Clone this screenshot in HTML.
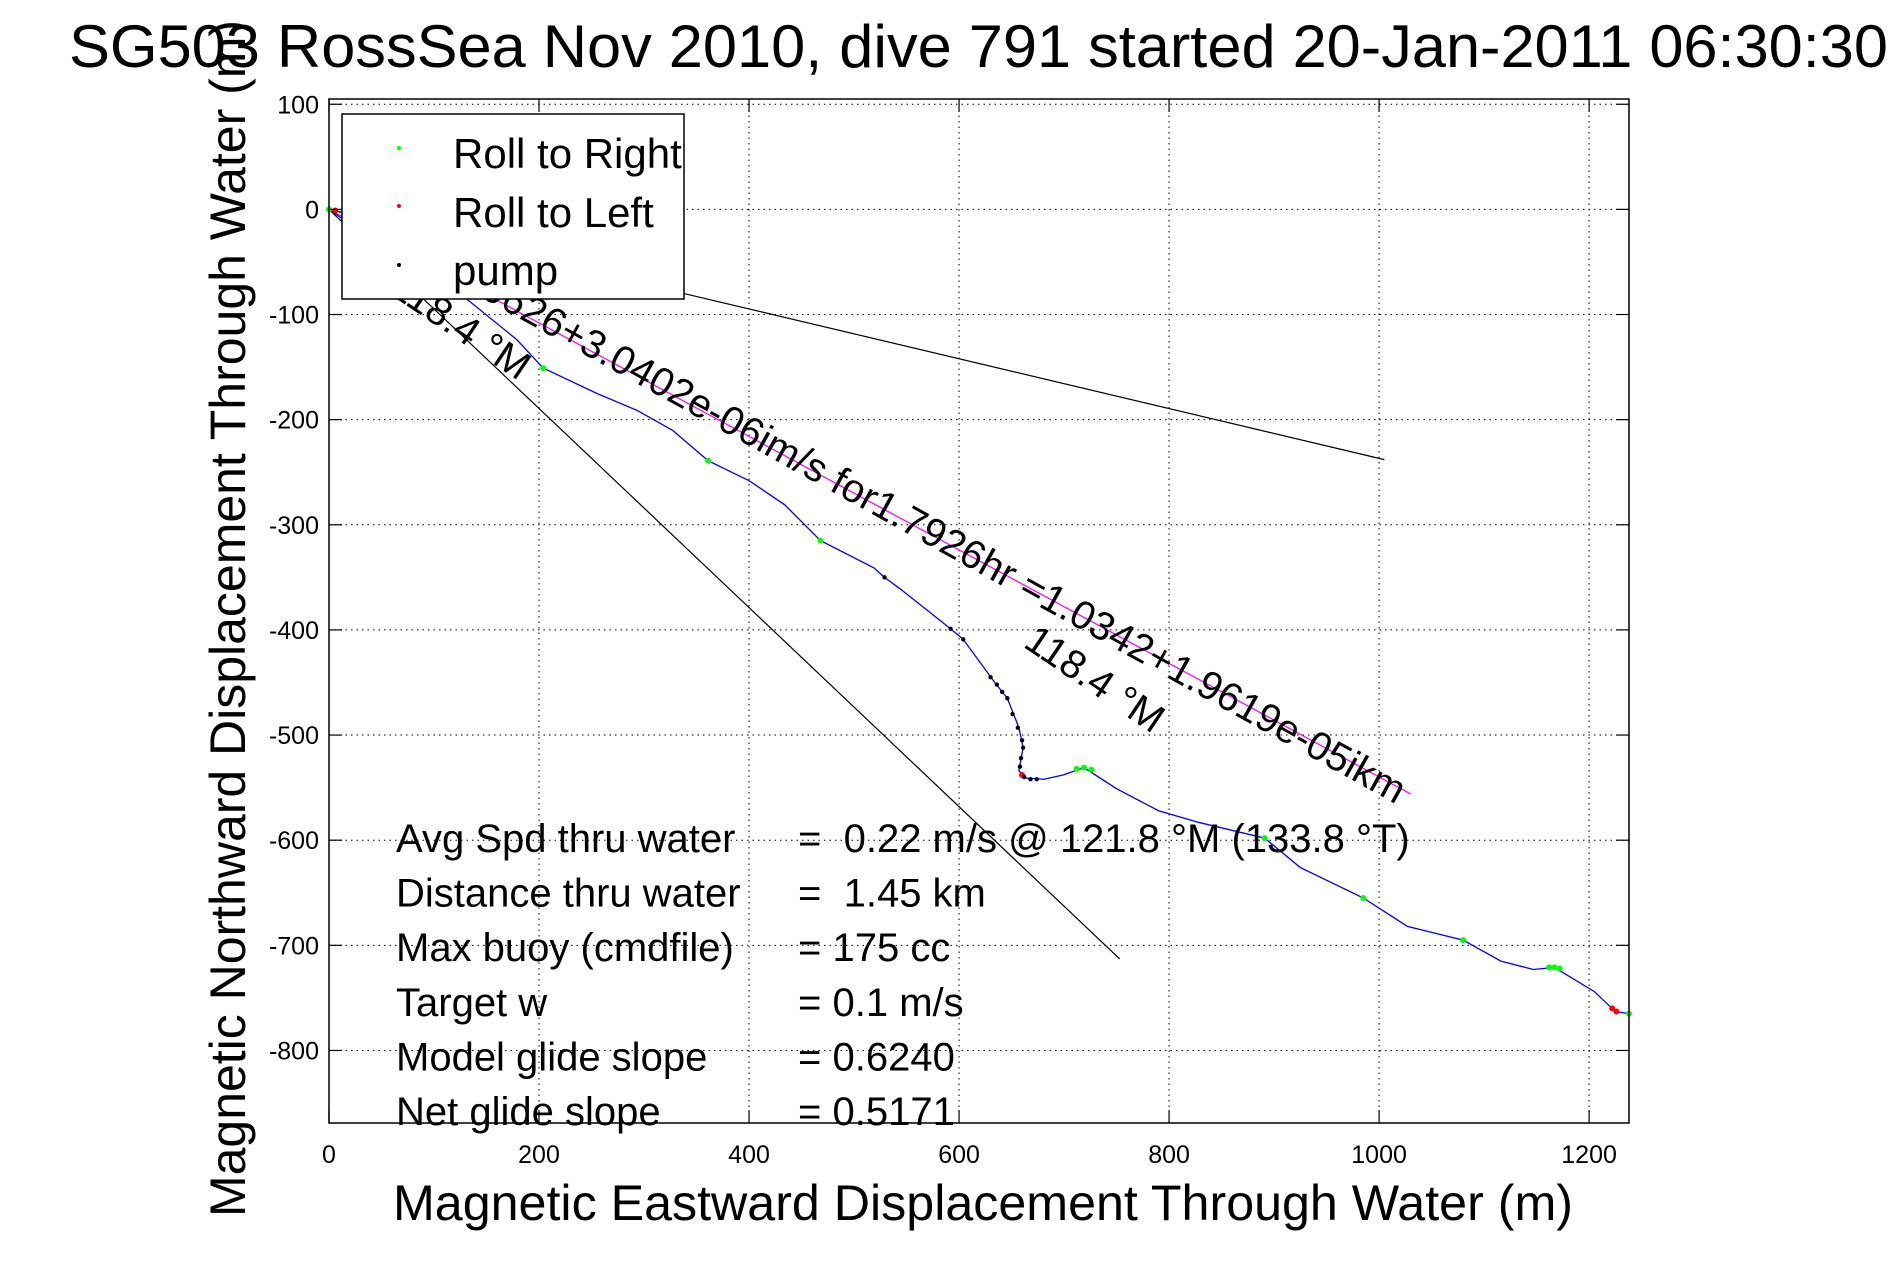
<!DOCTYPE html>
<html><head><meta charset="utf-8"><style>
html,body{margin:0;padding:0;background:#fff;}
svg{display:block;font-family:"Liberation Sans",Arial,sans-serif;}
</style></head><body>
<svg id="chart" width="1891" height="1262" viewBox="0 0 1891 1262">
<rect width="1891" height="1262" fill="#fff"/>
<g id="grid"></g>
<g id="series"></g>
<g id="annot"></g>
<g id="axes"></g>
<text x="69" y="67" font-size="60" textLength="1819" lengthAdjust="spacingAndGlyphs">SG503 RossSea Nov 2010, dive 791 started 20-Jan-2011 06:30:30</text>
<text x="393" y="1220" font-size="50" textLength="1180" lengthAdjust="spacingAndGlyphs">Magnetic Eastward Displacement Through Water (m)</text>
<text transform="translate(245,1217) rotate(-90)" font-size="50" textLength="1197" lengthAdjust="spacingAndGlyphs">Magnetic Northward Displacement Through Water (m)</text>
<g id="legend">
<rect x="342" y="114" width="342" height="185" fill="#fff" stroke="#000" stroke-width="1.5"/>
<circle cx="399" cy="148" r="2" fill="#00ff00"/>
<text x="453" y="168" font-size="42">Roll to Right</text>
<circle cx="399" cy="206" r="2" fill="#ff0000"/>
<text x="453" y="227" font-size="42">Roll to Left</text>
<circle cx="399" cy="265" r="2" fill="#000"/>
<text x="453" y="285" font-size="42">pump</text>
</g>
</svg>
<script>
// ---- data ----
const xTicks = [0, 200, 400, 600, 800, 1000, 1200];
const yTicks = [100, 0, -100, -200, -300, -400, -500, -600, -700, -800];
const trackX = [0, 60, 132, 179, 204, 255, 293, 327, 361, 400, 434, 468, 519, 529, 544, 582, 592, 604, 634, 646, 657, 661, 657, 664, 681, 699, 719, 750, 790, 828, 891, 925, 985, 1027, 1080, 1116, 1147, 1167, 1205, 1225, 1238];
const trackY = [0, -42, -86, -124, -151, -175, -191, -210, -239, -258, -281, -315, -341, -350, -361, -391, -399, -409, -450, -465, -493, -512, -534, -541, -542, -538, -531, -551, -572, -583, -598, -626, -655, -682, -695, -715, -723, -721, -744, -763, -765];
const greenX = [0, 204, 361, 468, 712, 719, 726, 891, 985, 1080, 1162, 1167, 1172, 1238];
const greenY = [0, -151, -239, -315, -532, -531, -533, -598, -655, -695, -721, -721, -722, -765];
const redX = [6, 660, 1222, 1226];
const redY = [-1, -538, -760, -763];
const pumpX = [529, 592, 604, 630, 636, 641, 646, 651, 656, 660, 661, 659, 658, 662, 668, 674];
const pumpY = [-350, -399, -409, -445, -452, -459, -465, -480, -493, -505, -512, -522, -530, -540, -542, -542];
const line1X = [0, 753]; const line1Y = [0, -713];
const line2X = [0, 1005]; const line2Y = [0, -238];
const magX = [0, 1030]; const magY = [0, -556];
const statLabels = ["Avg Spd thru water", "Distance thru water", "Max buoy (cmdfile)", "Target w", "Model glide slope", "Net glide slope"];
const statValues = ["=  0.22 m/s @ 121.8 °M (133.8 °T)", "=  1.45 km", "= 175 cc", "= 0.1 m/s", "= 0.6240", "= 0.5171"];

// ---- axes ----
const L = 329, R = 1629, T = 99, B = 1123;
const X0 = 0, X1 = 1238, Y0 = 105, Y1 = -869;
const sx = v => L + (v - X0) / (X1 - X0) * (R - L);
const sy = v => T + (Y0 - v) / (Y0 - Y1) * (B - T);
const NS = "http://www.w3.org/2000/svg";
function mk(tag, attrs, parent) {
  const e = document.createElementNS(NS, tag);
  for (const k in attrs) e.setAttribute(k, attrs[k]);
  parent.appendChild(e);
  return e;
}
const grid = document.getElementById('grid');
const axes = document.getElementById('axes');
const series = document.getElementById('series');
const annot = document.getElementById('annot');

xTicks.forEach(t => {
  const x = sx(t);
  const g = mk('line', {x1: x, x2: x, y1: T, y2: B, stroke: '#000', 'stroke-width': 1, 'stroke-dasharray': '1.5,4'}, grid);
  
  
  const a = mk('line', {x1: x, x2: x, y1: B, y2: B - 13, stroke: '#000', 'stroke-width': 1.2}, axes);
  
  
  const b = mk('line', {x1: x, x2: x, y1: T, y2: T + 13, stroke: '#000', 'stroke-width': 1.2}, axes);
  
  
  const lbl = mk('text', {x: x, y: 1163, 'font-size': 25, 'text-anchor': 'middle'}, axes);
  lbl.textContent = t;
  
  
});
yTicks.forEach(t => {
  const y = sy(t);
  const g = mk('line', {x1: L, x2: R, y1: y, y2: y, stroke: '#000', 'stroke-width': 1, 'stroke-dasharray': '1.5,4'}, grid);
  
  
  const a = mk('line', {x1: L, x2: L + 13, y1: y, y2: y, stroke: '#000', 'stroke-width': 1.2}, axes);
  
  
  const b = mk('line', {x1: R, x2: R - 13, y1: y, y2: y, stroke: '#000', 'stroke-width': 1.2}, axes);
  
  
  const lbl = mk('text', {x: 319, y: y + 9, 'font-size': 25, 'text-anchor': 'end'}, axes);
  lbl.textContent = t;
  
  
});
const box = mk('rect', {x: L, y: T, width: R - L, height: B - T, fill: 'none', stroke: '#000', 'stroke-width': 1.5}, axes);



// ---- series ----
function pl(xs, ys, color, w, name) {
  const p = mk('polyline', {points: xs.map((v, i) => sx(v) + ',' + sy(ys[i])).join(' '), fill: 'none', stroke: color, 'stroke-width': w}, series);
  
  
}
pl(line1X, line1Y, '#000', 1.2, 'heading-line-1');
pl(line2X, line2Y, '#000', 1.2, 'heading-line-2');
pl(magX, magY, '#ff00ff', 1.2, 'current-vector-line');
pl(trackX, trackY, '#0000ff', 1.3, 'dive-track');
function pts(xs, ys, color, r, name) {
  xs.forEach((v, i) => {
    const c = mk('circle', {cx: sx(v), cy: sy(ys[i]), r: r, fill: color}, series);
    
    
  });
}
pts(greenX, greenY, '#00ff00', 3, 'roll-right-point');
pts(redX, redY, '#ff0000', 3, 'roll-left-point');
pts(pumpX, pumpY, '#000', 2.2, 'pump-point');

// ---- annotations ----
function rt(x, y, ang, s, name) {
  const t = mk('text', {transform: 'translate(' + x + ',' + y + ') rotate(' + ang + ')', 'font-size': 40}, annot);
  t.textContent = s;
  
  
}
rt(450, 280, 29, "0.0626+3.0402e-06im/s for1.7926hr =1.0342+1.9619e-05ikm", 'current-annotation');
rt(388, 293, 34, "118.4 °M", 'heading-label-1');
rt(1022, 646, 34, "118.4 °M", 'heading-label-2');
statLabels.forEach((s, i) => {
  const y = 852 + i * 54.6;
  const a = mk('text', {x: 396, y: y, 'font-size': 40}, annot);
  a.textContent = s;
  
  
  const b = mk('text', {x: 798, y: y, 'font-size': 40}, annot);
  b.style.whiteSpace = 'pre';
  b.textContent = statValues[i];
  
  
});
// keep legend on top
document.getElementById('chart').appendChild(document.getElementById('legend'));
</script>
</body></html>
